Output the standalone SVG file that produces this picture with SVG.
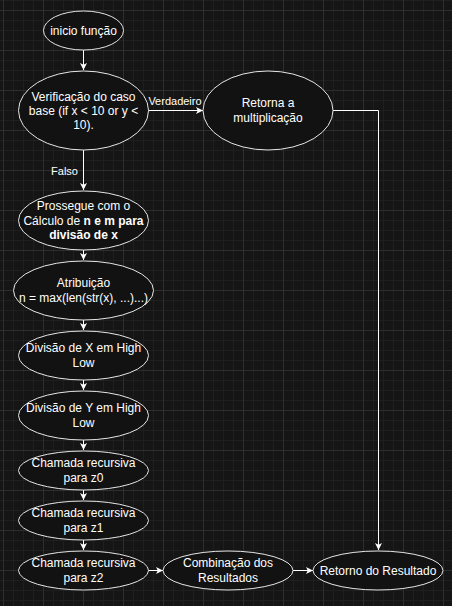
<svg xmlns="http://www.w3.org/2000/svg" width="452" height="606" viewBox="0 0 452 606">
<defs>
<pattern id="grid" x="3" y="10" width="40" height="40" patternUnits="userSpaceOnUse">
<rect width="40" height="40" fill="#151515"/>
<path d="M10.5 0V40M20.5 0V40M30.5 0V40M0 10.5H40M0 20.5H40M0 30.5H40" stroke="#1f1f1f" stroke-width="1" fill="none"/>
<path d="M0.5 0V40M0 0.5H40" stroke="#2e2e2e" stroke-width="1" fill="none"/>
</pattern>
<marker id="arr" viewBox="-8 -4 8 8" refX="0" refY="0" markerWidth="8" markerHeight="8" markerUnits="userSpaceOnUse" orient="auto">
<path d="M-7,-3.5 L0,0 L-7,3.5 L-5.25,0 Z" fill="#ffffff"/>
</marker>
<style>
.n ellipse{fill:#121212;stroke:#e6e6e6;stroke-width:1}
.n text,.lbl{font-family:"Liberation Sans",Arial,sans-serif;fill:#ffffff;text-anchor:middle}
.n text{font-size:12px}
.lbl{font-size:11px}
.e path{fill:none;stroke:#ffffff;stroke-width:1;marker-end:url(#arr)}
.b{font-weight:bold}
</style>
</defs>
<rect width="452" height="606" fill="url(#grid)"/>
<g id="connectors" class="e">
<path d="M83.5 50V70"/>
<path d="M83.5 150V190"/>
<path d="M148 110.5H203"/>
<path d="M83.5 250V260"/>
<path d="M83.5 320V330"/>
<path d="M83.5 380V390"/>
<path d="M83.5 440V450"/>
<path d="M83.5 490V500"/>
<path d="M83.5 540V550"/>
<path d="M148 570.5H163"/>
<path d="M293 570.5H313"/>
<path d="M333 110.5H378.5V550"/>
</g>
<g id="edge-labels">
<text class="lbl" x="64.5" y="175">Falso</text>
<text class="lbl" x="175" y="105">Verdadeiro</text>
</g>
<g id="inicio" class="n">
<ellipse cx="83.5" cy="30.5" rx="40" ry="19.5"/>
<text x="83.5" y="34.5">inicio função</text>
</g>
<g id="verificacao" class="n">
<ellipse cx="83.5" cy="110.5" rx="65" ry="39.5"/>
<text x="83.5" y="100.5">Verificação do caso</text>
<text x="83.5" y="114.5">base (if x &lt; 10 or y &lt;</text>
<text x="83.5" y="128.5">10).</text>
</g>
<g id="retorna" class="n">
<ellipse cx="268" cy="110.5" rx="65" ry="39.5"/>
<text x="268" y="107">Retorna a</text>
<text x="268" y="121.5">multiplicação</text>
</g>
<g id="prossegue" class="n">
<ellipse cx="83.5" cy="220.5" rx="65" ry="29.5"/>
<text x="83.5" y="210">Prossegue com o</text>
<text x="83.5" y="224.5">Cálculo de <tspan class="b">n e m para</tspan></text>
<text x="83.5" y="239" class="b">divisão de x</text>
</g>
<g id="atribuicao" class="n">
<ellipse cx="83.5" cy="290.5" rx="70" ry="29.5"/>
<text x="83.5" y="287">Atribuição</text>
<text x="83.5" y="301.5">n = max(len(str(x), ...)...)</text>
</g>
<g id="divisao-x" class="n">
<ellipse cx="83.5" cy="355.5" rx="65" ry="24.5"/>
<text x="83.5" y="352">Divisão de X em High</text>
<text x="83.5" y="366.5">Low</text>
</g>
<g id="divisao-y" class="n">
<ellipse cx="83.5" cy="415.5" rx="65" ry="24.5"/>
<text x="83.5" y="412">Divisão de Y em High</text>
<text x="83.5" y="426.5">Low</text>
</g>
<g id="z0" class="n">
<ellipse cx="83.5" cy="470.5" rx="65" ry="19.5"/>
<text x="83.5" y="467">Chamada recursiva</text>
<text x="83.5" y="481.5">para z0</text>
</g>
<g id="z1" class="n">
<ellipse cx="83.5" cy="520.5" rx="65" ry="19.5"/>
<text x="83.5" y="517">Chamada recursiva</text>
<text x="83.5" y="531.5">para z1</text>
</g>
<g id="z2" class="n">
<ellipse cx="83.5" cy="570.5" rx="65" ry="19.5"/>
<text x="83.5" y="567">Chamada recursiva</text>
<text x="83.5" y="581.5">para z2</text>
</g>
<g id="combinacao" class="n">
<ellipse cx="228" cy="570.5" rx="65" ry="19.5"/>
<text x="228" y="567">Combinação dos</text>
<text x="228" y="581.5">Resultados</text>
</g>
<g id="retorno" class="n">
<ellipse cx="378" cy="570.5" rx="65" ry="19.5"/>
<text x="378" y="574.5">Retorno do Resultado</text>
</g>
</svg>
